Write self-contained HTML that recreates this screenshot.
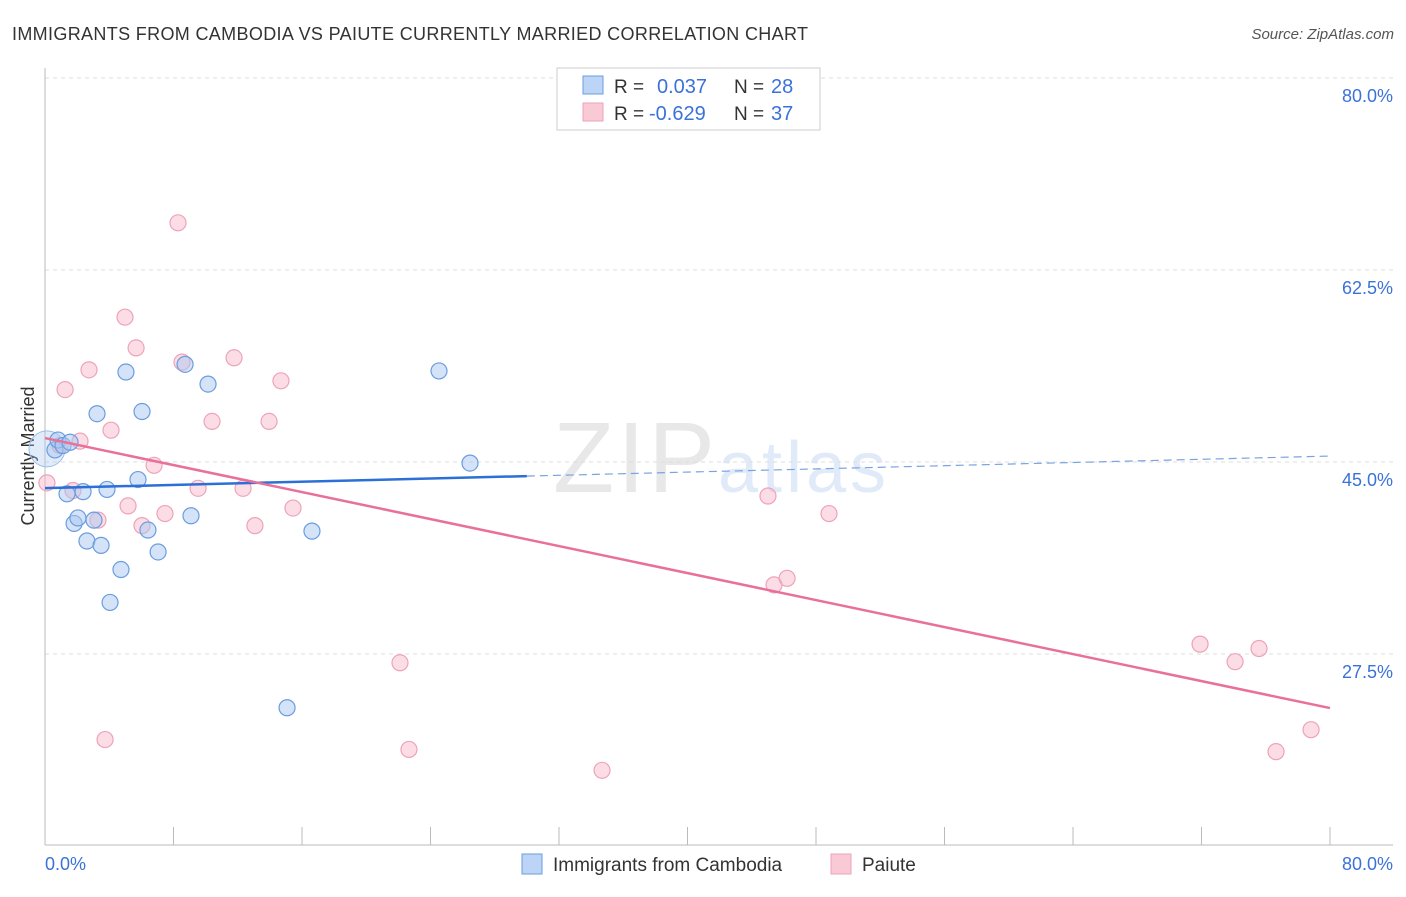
<!DOCTYPE html>
<html><head><meta charset="utf-8"><style>
body{margin:0;background:#fff;font-family:"Liberation Sans",sans-serif}
svg text{font-family:"Liberation Sans",sans-serif}
</style></head><body>
<svg width="1406" height="892">
<g id="root"></g>
</svg>
<script>
const blueX=[0.44,0.62,0.81,1.12,1.56,1.37,2.37,3.86,5.79,3.24,6.04,5.04,8.72,10.15,24.53,26.46,1.81,2.05,3.05,2.61,3.49,6.41,7.04,9.09,4.73,4.05,16.62,15.07];
const blueY=[45.6,46.1,47.0,46.5,46.8,42.1,42.3,42.5,43.4,49.4,49.6,53.2,53.9,52.1,53.3,44.9,39.4,39.9,39.7,37.8,37.4,38.8,36.8,40.1,35.2,32.2,38.7,22.6];
const pinkX=[0.12,1.25,2.74,4.98,5.67,8.28,8.53,11.77,14.69,4.11,2.18,0.93,6.79,10.40,13.95,1.74,3.30,5.17,6.04,7.47,9.53,12.33,13.07,15.44,3.74,22.10,22.66,34.68,45.01,45.39,46.2,48.81,71.91,74.09,75.58,76.64,78.82];
const pinkY=[43.1,51.6,53.4,58.2,55.4,66.8,54.1,54.5,52.4,47.9,46.9,46.5,44.7,48.7,48.7,42.4,39.7,41.0,39.2,40.3,42.6,42.6,39.2,40.8,19.7,26.7,18.8,16.9,41.9,33.8,34.4,40.3,28.4,26.8,28.0,18.6,20.6];
const blueTrend=[42.62,45.54];
const pinkTrend=[47.18,22.57];
const yTicks=[27.5,45.0,62.5,80.0];
const NS="http://www.w3.org/2000/svg";
const root=document.getElementById('root');
const X=v=>45+v/80*1285;
const Y=v=>78+(80-v)*192/17.5;
function mk(t,a,txt){const e=document.createElementNS(NS,t);for(const k in a)e.setAttribute(k,a[k]);if(txt!==undefined)e.textContent=txt;root.appendChild(e);return e;}
let e;
e=mk('text',{x:12,y:40,'font-size':18,fill:'#333',textLength:796},'IMMIGRANTS FROM CAMBODIA VS PAIUTE CURRENTLY MARRIED CORRELATION CHART');


e=mk('text',{x:1394,y:39,'font-size':15,fill:'#555','text-anchor':'end','font-style':'italic'},'Source: ZipAtlas.com');


e=mk('text',{x:553,y:492,'font-size':100,fill:'#e8e8e8','font-family':'Liberation Serif',textLength:162},'ZIP');


e=mk('text',{x:718,y:492,'font-size':72,fill:'#e0eaf8',textLength:168},'atlas');


e=mk('line',{x1:45,y1:78,x2:1393,y2:78,stroke:'#ddd','stroke-dasharray':'4,4'});
for(const t of yTicks){
 e=mk('line',{x1:45,y1:Y(t),x2:1393,y2:Y(t),stroke:'#ddd','stroke-dasharray':'4,4'});
 
 
 e=mk('text',{x:1393,y:Y(t)+24,'font-size':18,fill:'#3a72d8','text-anchor':'end'},t.toFixed(1)+'%');
 
 
}
e=mk('line',{x1:45,y1:68,x2:45,y2:845,stroke:'#bbb'});


e=mk('line',{x1:45,y1:845,x2:1393,y2:845,stroke:'#bbb'});


for(let i=1;i<=10;i++){e=mk('line',{x1:45+i*128.5,y1:827,x2:45+i*128.5,y2:845,stroke:'#bbb'});}
e=mk('text',{x:45,y:870,'font-size':18,fill:'#3a72d8'},'0.0%');


e=mk('text',{x:1393,y:870,'font-size':18,fill:'#3a72d8','text-anchor':'end'},'80.0%');


e=mk('text',{x:34,y:456,'font-size':18,fill:'#333','text-anchor':'middle',transform:'rotate(-90 34 456)'},'Currently Married');


e=mk('circle',{cx:47,cy:Y(46.2),r:18,fill:'rgba(170,200,240,0.35)',stroke:'#9cbde8','stroke-width':1});


for(let i=0;i<pinkX.length;i++){e=mk('circle',{cx:X(pinkX[i]),cy:Y(pinkY[i]),r:8,fill:'rgba(248,180,200,0.45)',stroke:'#eda3b8','stroke-width':1.2});
 
 }
for(let i=1;i<blueX.length;i++){e=mk('circle',{cx:X(blueX[i]),cy:Y(blueY[i]),r:8,fill:'rgba(170,200,240,0.5)',stroke:'#6a9de0','stroke-width':1.2});
 
 }
const by=x=>blueTrend[0]+(blueTrend[1]-blueTrend[0])*x/80;
e=mk('line',{x1:X(0),y1:Y(by(0)),x2:X(30),y2:Y(by(30)),stroke:'#2c6fd6','stroke-width':2.5});


e=mk('line',{x1:X(30),y1:Y(by(30)),x2:X(80),y2:Y(by(80)),stroke:'#7aa3e0','stroke-width':1.2,'stroke-dasharray':'8,5'});


e=mk('line',{x1:X(0),y1:Y(pinkTrend[0]),x2:X(80),y2:Y(pinkTrend[1]),stroke:'#e8709a','stroke-width':2.5});


e=mk('rect',{x:557,y:68,width:263,height:62,fill:'#fff',stroke:'#ccc'});


e=mk('rect',{x:583,y:76,width:20,height:18,fill:'#bcd4f5',stroke:'#6a9de0'});
e=mk('rect',{x:583,y:103,width:20,height:18,fill:'#f9c9d6',stroke:'#eda3b8'});
e=mk('text',{x:614,y:93,'font-size':19,fill:'#333'},'R =');
e=mk('text',{x:657,y:93,'font-size':20,fill:'#3a72d8'},'0.037');
e=mk('text',{x:734,y:93,'font-size':19,fill:'#333'},'N =');
e=mk('text',{x:771,y:93,'font-size':20,fill:'#3a72d8'},'28');
e=mk('text',{x:614,y:120,'font-size':19,fill:'#333'},'R =');
e=mk('text',{x:649,y:120,'font-size':20,fill:'#3a72d8'},'-0.629');
e=mk('text',{x:734,y:120,'font-size':19,fill:'#333'},'N =');
e=mk('text',{x:771,y:120,'font-size':20,fill:'#3a72d8'},'37');
e=mk('rect',{x:522,y:854,width:20,height:20,fill:'#bcd4f5',stroke:'#6a9de0'});


e=mk('text',{x:553,y:871,'font-size':19,fill:'#333'},'Immigrants from Cambodia');


e=mk('rect',{x:831,y:854,width:20,height:20,fill:'#f9c9d6',stroke:'#eda3b8'});


e=mk('text',{x:862,y:871,'font-size':19,fill:'#333'},'Paiute');


</script>
</body></html>
